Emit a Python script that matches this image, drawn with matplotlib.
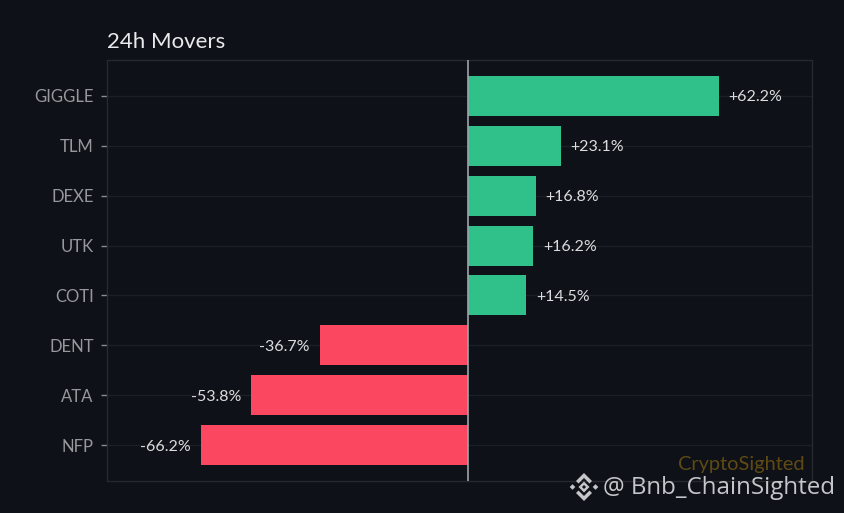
# -*- coding: utf-8 -*-
import matplotlib
matplotlib.use('Agg')
import matplotlib.pyplot as plt
from matplotlib.patches import Polygon

symbols = ['GIGGLE', 'TLM', 'DEXE', 'UTK', 'COTI', 'DENT', 'ATA', 'NFP']
changes = [62.2, 23.1, 16.8, 16.2, 14.5, -36.7, -53.8, -66.2]

BG = '#0e1117'
GREEN = '#2fc189'
RED = '#fb4860'
LOGO = '#c4c6ca'
W, H = 844, 513

plt.rcParams['font.family'] = ['Lato', 'DejaVu Sans']

fig = plt.figure(figsize=(W/100, H/100), dpi=100, facecolor=BG)
ax = fig.add_axes([107/W, 1-481/H, 705/W, 421/H], facecolor=BG)

colors = [GREEN if c > 0 else RED for c in changes]
ypos = list(range(len(symbols)))
ax.barh(ypos, changes, height=0.8, color=colors, zorder=3)

ax.set_xlim(-89.4, 85.3)
ax.set_ylim(7.72, -0.72)
ax.set_xticks([])
ax.set_yticks(ypos)
ax.set_yticklabels(symbols, fontsize=12, color='#96989b')
ax.tick_params(axis='y', length=4.3, width=1, color='#8a8c90', pad=5.2)
ax.grid(axis='y', color='#1b1f26', linewidth=1, zorder=0)
ax.axvline(0, color='#a0a3a8', linewidth=1.2, zorder=4)

for spine in ax.spines.values():
    spine.set_color('#26292e')
    spine.set_linewidth(1)

for y, c in zip(ypos, changes):
    if c > 0:
        ax.text(c + 2.4, y + 0.03, '+%.1f%%' % c, color='#dcddde', fontsize=11.5,
                ha='left', va='center', zorder=5)
    else:
        ax.text(c - 2.4, y + 0.03, '%.1f%%' % c, color='#dcddde', fontsize=11.5,
                ha='right', va='center', zorder=5)

fig.text(107/W, 1-42.5/H, '24h Movers', color='#e8e9ea', fontsize=16,
         ha='left', va='center')
fig.text(805/W, 1-464.5/H, 'CryptoSighted', color='#5f4a14', fontsize=14.4,
         ha='right', va='center')
fig.text(835/W, 1-488.5/H, '@ Bnb_ChainSighted', color=LOGO, fontsize=17.4,
         family=['Open Sans', 'DejaVu Sans'], ha='right', va='center')


# binance logo for the watermark, in pixels
def poly(pts, color=LOGO):
    pts = [(px/W, 1-py/H) for px, py in pts]
    fig.add_artist(Polygon(pts, closed=True, transform=fig.transFigure,
                           facecolor=color, edgecolor='none'))


def diamond(cx, cy, r, color=LOGO):
    poly([(cx-r, cy), (cx, cy-r), (cx+r, cy), (cx, cy+r)], color)


cx, cy = 584, 487
for s in (-1, 1):
    poly([(cx, cy+s*14), (cx+8, cy+s*6), (cx+5.5, cy+s*3.5), (cx, cy+s*9),
          (cx-5.5, cy+s*3.5), (cx-8, cy+s*6)])
    diamond(cx+s*11.5, cy, 2.8)
diamond(cx, cy, 5.5)
diamond(cx, cy, 2, BG)

fig.savefig('out.png', dpi=100, facecolor=BG)
